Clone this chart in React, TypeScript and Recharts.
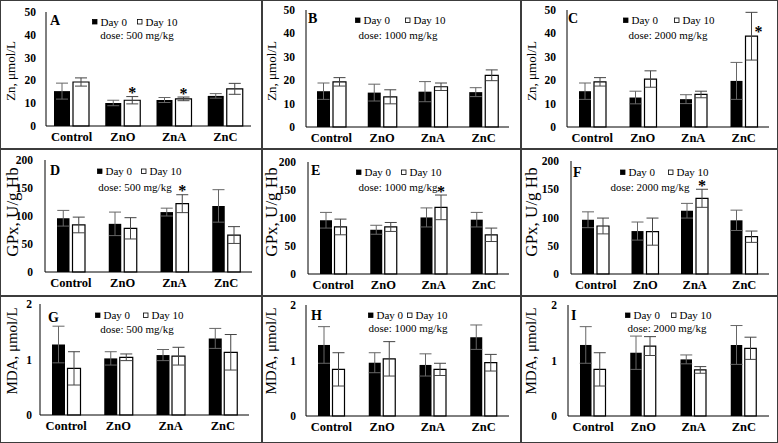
import React from 'react';
import { BarChart, Bar, XAxis, YAxis, ErrorBar, LabelList, Legend, ReferenceArea } from 'recharts';

const FONT = '"Liberation Serif", "Times New Roman", serif';

const categories = ['Control', 'ZnO', 'ZnA', 'ZnC'];
const seriesNames = ['Day 0', 'Day 10'];
const doses = ['500 mg/kg', '1000 mg/kg', '2000 mg/kg'];

// Zn, μmol/L
const znDay0_500 = [15.3, 10.1, 11.4, 13.2];
const znErr0_500 = [3.5, 1.2, 1.1, 1.0];
const znDay10_500 = [19.3, 11.3, 11.9, 16.3];
const znErr10_500 = [1.8, 1.6, 0.8, 2.4];
const znStar_500 = [0, 1, 1, 0];

const znDay0_1000 = [15.3, 14.7, 15.1, 14.9];
const znErr0_1000 = [3.5, 3.6, 4.3, 1.9];
const znDay10_1000 = [19.3, 12.9, 17.2, 22.1];
const znErr10_1000 = [1.8, 3.0, 1.6, 2.3];
const znStar_1000 = [0, 0, 0, 0];

const znDay0_2000 = [15.3, 12.6, 11.9, 19.7];
const znErr0_2000 = [3.5, 2.7, 1.9, 7.9];
const znDay10_2000 = [19.3, 20.5, 13.9, 38.8];
const znErr10_2000 = [1.8, 3.5, 1.4, 10.2];
const znStar_2000 = [0, 0, 0, 1];

// GPx, U/g Hb
const gpxDay0_500 = [96, 86, 107, 118];
const gpxErr0_500 = [14, 21, 7, 29];
const gpxDay10_500 = [84, 78, 122, 66];
const gpxErr10_500 = [14, 19, 16, 15];
const gpxStar_500 = [0, 0, 1, 0];

const gpxDay0_1000 = [96, 79, 101, 97];
const gpxErr0_1000 = [14, 8, 17, 13];
const gpxDay10_1000 = [84, 84, 119, 70];
const gpxErr10_1000 = [14, 8, 22, 12];
const gpxStar_1000 = [0, 0, 1, 0];

const gpxDay0_2000 = [96, 76, 112, 95];
const gpxErr0_2000 = [14, 16, 13, 18];
const gpxDay10_2000 = [85, 75, 134, 66];
const gpxErr10_2000 = [14, 24, 16, 10];
const gpxStar_2000 = [0, 0, 1, 0];

// MDA, μmol/L
const mdaDay0_500 = [1.27, 1.02, 1.08, 1.38];
const mdaErr0_500 = [0.33, 0.12, 0.1, 0.18];
const mdaDay10_500 = [0.84, 1.04, 1.06, 1.13];
const mdaErr10_500 = [0.3, 0.06, 0.16, 0.32];
const mdaStar_500 = [0, 0, 0, 0];

const mdaDay0_1000 = [1.28, 0.96, 0.92, 1.42];
const mdaErr0_1000 = [0.33, 0.18, 0.2, 0.22];
const mdaDay10_1000 = [0.84, 1.03, 0.84, 0.96];
const mdaErr10_1000 = [0.3, 0.31, 0.11, 0.15];
const mdaStar_1000 = [0, 0, 0, 0];

const mdaDay0_2000 = [1.28, 1.14, 1.02, 1.28];
const mdaErr0_2000 = [0.33, 0.3, 0.08, 0.35];
const mdaDay10_2000 = [0.84, 1.26, 0.83, 1.22];
const mdaErr10_2000 = [0.3, 0.17, 0.06, 0.2];
const mdaStar_2000 = [0, 0, 0, 0];

const znTicks = [0, 10, 20, 30, 40, 50];
const gpxTicks = [0, 50, 100, 150, 200];
const mdaTicks = [0, 1, 2];

const metrics = {
  zn: { title: 'Zn, μmol/L', titleSize: 13, ticks: znTicks },
  gpx: { title: 'GPx, U/g Hb', titleSize: 17, ticks: gpxTicks },
  mda: { title: 'MDA, μmol/L', titleSize: 15, ticks: mdaTicks },
};

const cols = [{ x: 0, w: 262 }, { x: 262, w: 259 }, { x: 521, w: 257 }];
const rows = [{ y: 0, h: 149 }, { y: 149, h: 147 }, { y: 296, h: 147 }];

// layout of each panel, in page pixels
const panels = [
  { id: 'A', metric: 'zn', r: 0, c: 0, dose: doses[0], d0: znDay0_500, e0: znErr0_500, d10: znDay10_500, e10: znErr10_500, star: znStar_500,
    frame: { l: 46, t: 12, r: 251, b: 126 }, barSize: 16, barGap: 3, yTickMargin: 10, title: [10, 71], letter: [50, 20], leg: [92, 21.5], legStep: 45, doseAt: [137, 35] },
  { id: 'B', metric: 'zn', r: 0, c: 1, dose: doses[1], d0: znDay0_1000, e0: znErr0_1000, d10: znDay10_1000, e10: znErr10_1000, star: znStar_1000,
    frame: { l: 306, t: 10, r: 509, b: 127 }, barSize: 13, barGap: 3, yTickMargin: 11, title: [271, 71], letter: [308, 18], leg: [355, 20], legStep: 50, doseAt: [398, 35] },
  { id: 'C', metric: 'zn', r: 0, c: 2, dose: doses[2], d0: znDay0_2000, e0: znErr0_2000, d10: znDay10_2000, e10: znErr10_2000, star: znStar_2000,
    frame: { l: 567, t: 10, r: 769, b: 127 }, barSize: 12, barGap: 3, yTickMargin: 11, title: [531, 71], letter: [568, 18], leg: [623, 20], legStep: 51, doseAt: [668, 35] },
  { id: 'D', metric: 'gpx', r: 1, c: 0, dose: doses[0], d0: gpxDay0_500, e0: gpxErr0_500, d10: gpxDay10_500, e10: gpxErr10_500, star: gpxStar_500,
    frame: { l: 45, t: 160, r: 252, b: 272 }, barSize: 12.5, barGap: 3, yTickMargin: 12, title: [12, 212], letter: [50, 170], leg: [97, 171], legStep: 44, doseAt: [135, 187] },
  { id: 'E', metric: 'gpx', r: 1, c: 1, dose: doses[1], d0: gpxDay0_1000, e0: gpxErr0_1000, d10: gpxDay10_1000, e10: gpxErr10_1000, star: gpxStar_1000,
    frame: { l: 308, t: 162, r: 509, b: 274 }, barSize: 12, barGap: 2.5, yTickMargin: 12, title: [271, 212], letter: [311, 170], leg: [356, 172], legStep: 45, doseAt: [398, 187] },
  { id: 'F', metric: 'gpx', r: 1, c: 2, dose: doses[2], d0: gpxDay0_2000, e0: gpxErr0_2000, d10: gpxDay10_2000, e10: gpxErr10_2000, star: gpxStar_2000,
    frame: { l: 571, t: 161, r: 769, b: 274 }, barSize: 12, barGap: 3, yTickMargin: 12, title: [531, 212], letter: [573, 172], leg: [620, 172], legStep: 48, doseAt: [650, 187] },
  { id: 'G', metric: 'mda', r: 2, c: 0, dose: doses[0], d0: mdaDay0_500, e0: mdaErr0_500, d10: mdaDay10_500, e10: mdaErr10_500, star: mdaStar_500,
    frame: { l: 40, t: 304, r: 249, b: 415 }, barSize: 13, barGap: 2.5, yTickMargin: 8, title: [12, 351], letter: [48, 317], leg: [95, 315], legStep: 48, doseAt: [137, 329] },
  { id: 'H', metric: 'mda', r: 2, c: 1, dose: doses[1], d0: mdaDay0_1000, e0: mdaErr0_1000, d10: mdaDay10_1000, e10: mdaErr10_1000, star: mdaStar_1000,
    frame: { l: 306, t: 305, r: 509, b: 416 }, barSize: 12, barGap: 2.5, yTickMargin: 10, title: [271, 351], letter: [311, 315], leg: [368, 315], legStep: 39, doseAt: [408, 328] },
  { id: 'I', metric: 'mda', r: 2, c: 2, dose: doses[2], d0: mdaDay0_2000, e0: mdaErr0_2000, d10: mdaDay10_2000, e10: mdaErr10_2000, star: mdaStar_2000,
    frame: { l: 568, t: 305, r: 769, b: 416 }, barSize: 11.5, barGap: 2.5, yTickMargin: 11, title: [531, 351], letter: [571, 315], leg: [625, 315], legStep: 46, doseAt: [667, 328] },
];

function Panel({ p }: { p: any }) {
  const m = metrics[p.metric as keyof typeof metrics];
  const cell = { x: cols[p.c].x, y: rows[p.r].y, w: cols[p.c].w, h: rows[p.r].h };
  const f = p.frame;
  const xAxisH = 20;
  const data = categories.map((name, i) => ({
    name, d0: p.d0[i], e0: p.e0[i], d10: p.d10[i], e10: p.e10[i], s: p.star[i],
  }));
  const maxY = m.ticks[m.ticks.length - 1];

  // asterisk above the Day 10 error bar (or beside it when there is no room)
  const renderStar = (props: any) => {
    const vb = props.viewBox || props;
    const idx = props.index;
    if (!props.value) return null;
    const x = vb.x ?? props.x;
    const y = vb.y ?? props.y;
    const w = vb.width ?? props.width;
    const h = vb.height ?? props.height;
    const top = Math.min(y, y + h);
    const errPx = (Math.abs(h) * p.e10[idx]) / p.d10[idx];
    const errTop = top - errPx;
    const cx = x + w / 2;
    if (errTop < 24) {
      return (
        <text x={cx + 7} y={top + 1} textAnchor="middle" fontFamily={FONT} fontSize={16} fontWeight="bold" fill="#000">*</text>
      );
    }
    return (
      <text x={cx} y={errTop + 1.5} textAnchor="middle" fontFamily={FONT} fontSize={16} fontWeight="bold" fill="#000">*</text>
    );
  };

  const renderOverlay = (props: any) => {
    const payload = props.payload || [];
    return (
      <svg width={cell.w} height={cell.h} style={{ position: 'absolute', left: 0, top: 0, overflow: 'visible' }}>
        <text x={p.letter[0] - cell.x} y={p.letter[1] - cell.y} dominantBaseline="central" fontFamily={FONT} fontSize={14} fontWeight="bold" fill="#000">{p.id}</text>
        {payload.map((item: any, i: number) => {
          const lx = p.leg[0] - cell.x + i * p.legStep;
          const ly = p.leg[1] - cell.y;
          return (
            <g key={item.value}>
              <rect x={lx + 0.5} y={ly - 2} width={4.5} height={4.5} fill={item.color} stroke="#000" strokeWidth={0.8} />
              <text x={lx + 8.5} y={ly} dominantBaseline="central" fontFamily={FONT} fontSize={11} fill="#000">{item.value}</text>
            </g>
          );
        })}
        <text x={p.doseAt[0] - cell.x} y={p.doseAt[1] - cell.y} textAnchor="middle" dominantBaseline="central" fontFamily={FONT} fontSize={11} fill="#000">dose: {p.dose}</text>
      </svg>
    );
  };

  const tx = p.title[0] - cell.x;
  const ty = p.title[1] - cell.y;

  return (
    <div style={{ position: 'absolute', left: cell.x, top: cell.y }}>
      <BarChart
        width={cell.w}
        height={cell.h}
        data={data}
        margin={{ top: f.t - cell.y, right: cell.x + cell.w - f.r, bottom: cell.y + cell.h - f.b - xAxisH, left: 0 }}
        barSize={p.barSize}
        barGap={p.barGap}
      >
        <XAxis
          dataKey="name"
          height={xAxisH}
          interval={0}
          tickLine={false}
          tickSize={0}
          tickMargin={6}
          axisLine={{ stroke: '#000' }}
          tick={{ fontFamily: FONT, fontSize: 12.5, fontWeight: 'bold', fill: '#000' }}
        />
        <YAxis
          width={f.l - cell.x}
          domain={[0, maxY]}
          ticks={m.ticks}
          interval={0}
          tickLine={false}
          tickSize={0}
          tickMargin={p.yTickMargin}
          axisLine={{ stroke: '#000' }}
          tick={{ fontFamily: FONT, fontSize: 11.5, fontWeight: 'bold', fill: '#000' }}
          label={{
            value: m.title,
            content: () => (
              <text x={tx} y={ty} transform={`rotate(-90 ${tx} ${ty})`} textAnchor="middle" dominantBaseline="central" fontFamily={FONT} fontSize={m.titleSize} fill="#000">
                {m.title}
              </text>
            ),
          }}
        />
        <ReferenceArea fill="none" fillOpacity={0} stroke="#000" strokeWidth={1} ifOverflow="visible" />
        <Bar dataKey="d0" name={seriesNames[0]} fill="#000" isAnimationActive={false}>
          <ErrorBar dataKey="e0" width={6} stroke="#666" strokeWidth={1} direction="y" isAnimationActive={false} />
        </Bar>
        <Bar dataKey="d10" name={seriesNames[1]} fill="#fff" stroke="#000" strokeWidth={1.2} isAnimationActive={false}>
          <ErrorBar dataKey="e10" width={6} stroke="#444" strokeWidth={1} direction="y" isAnimationActive={false} />
          <LabelList dataKey="s" content={renderStar} />
        </Bar>
        <Legend
          verticalAlign="middle"
          align="center"
          layout="horizontal"
          wrapperStyle={{ left: 0, top: 0, width: cell.w, height: cell.h, pointerEvents: 'none' }}
          content={renderOverlay}
        />
      </BarChart>
    </div>
  );
}

const LINE = '#3c3c3c';

export default function App() {
  return (
    <div style={{ position: 'relative', width: 778, height: 443, background: '#fff', overflow: 'hidden' }}>
      <style>{'body{margin:0;}'}</style>
      {panels.map((p) => (
        <Panel key={p.id} p={p} />
      ))}
      {/* panel frame lines */}
      <div style={{ position: 'absolute', left: 0, top: 0, width: 778, height: 443, boxSizing: 'border-box', border: `1.5px solid ${LINE}` }} />
      <div style={{ position: 'absolute', left: 261, top: 0, width: 1.5, height: 443, background: LINE }} />
      <div style={{ position: 'absolute', left: 520, top: 0, width: 1.5, height: 443, background: LINE }} />
      <div style={{ position: 'absolute', left: 0, top: 148, width: 778, height: 1.5, background: LINE }} />
      <div style={{ position: 'absolute', left: 0, top: 295, width: 778, height: 1.5, background: LINE }} />
    </div>
  );
}
